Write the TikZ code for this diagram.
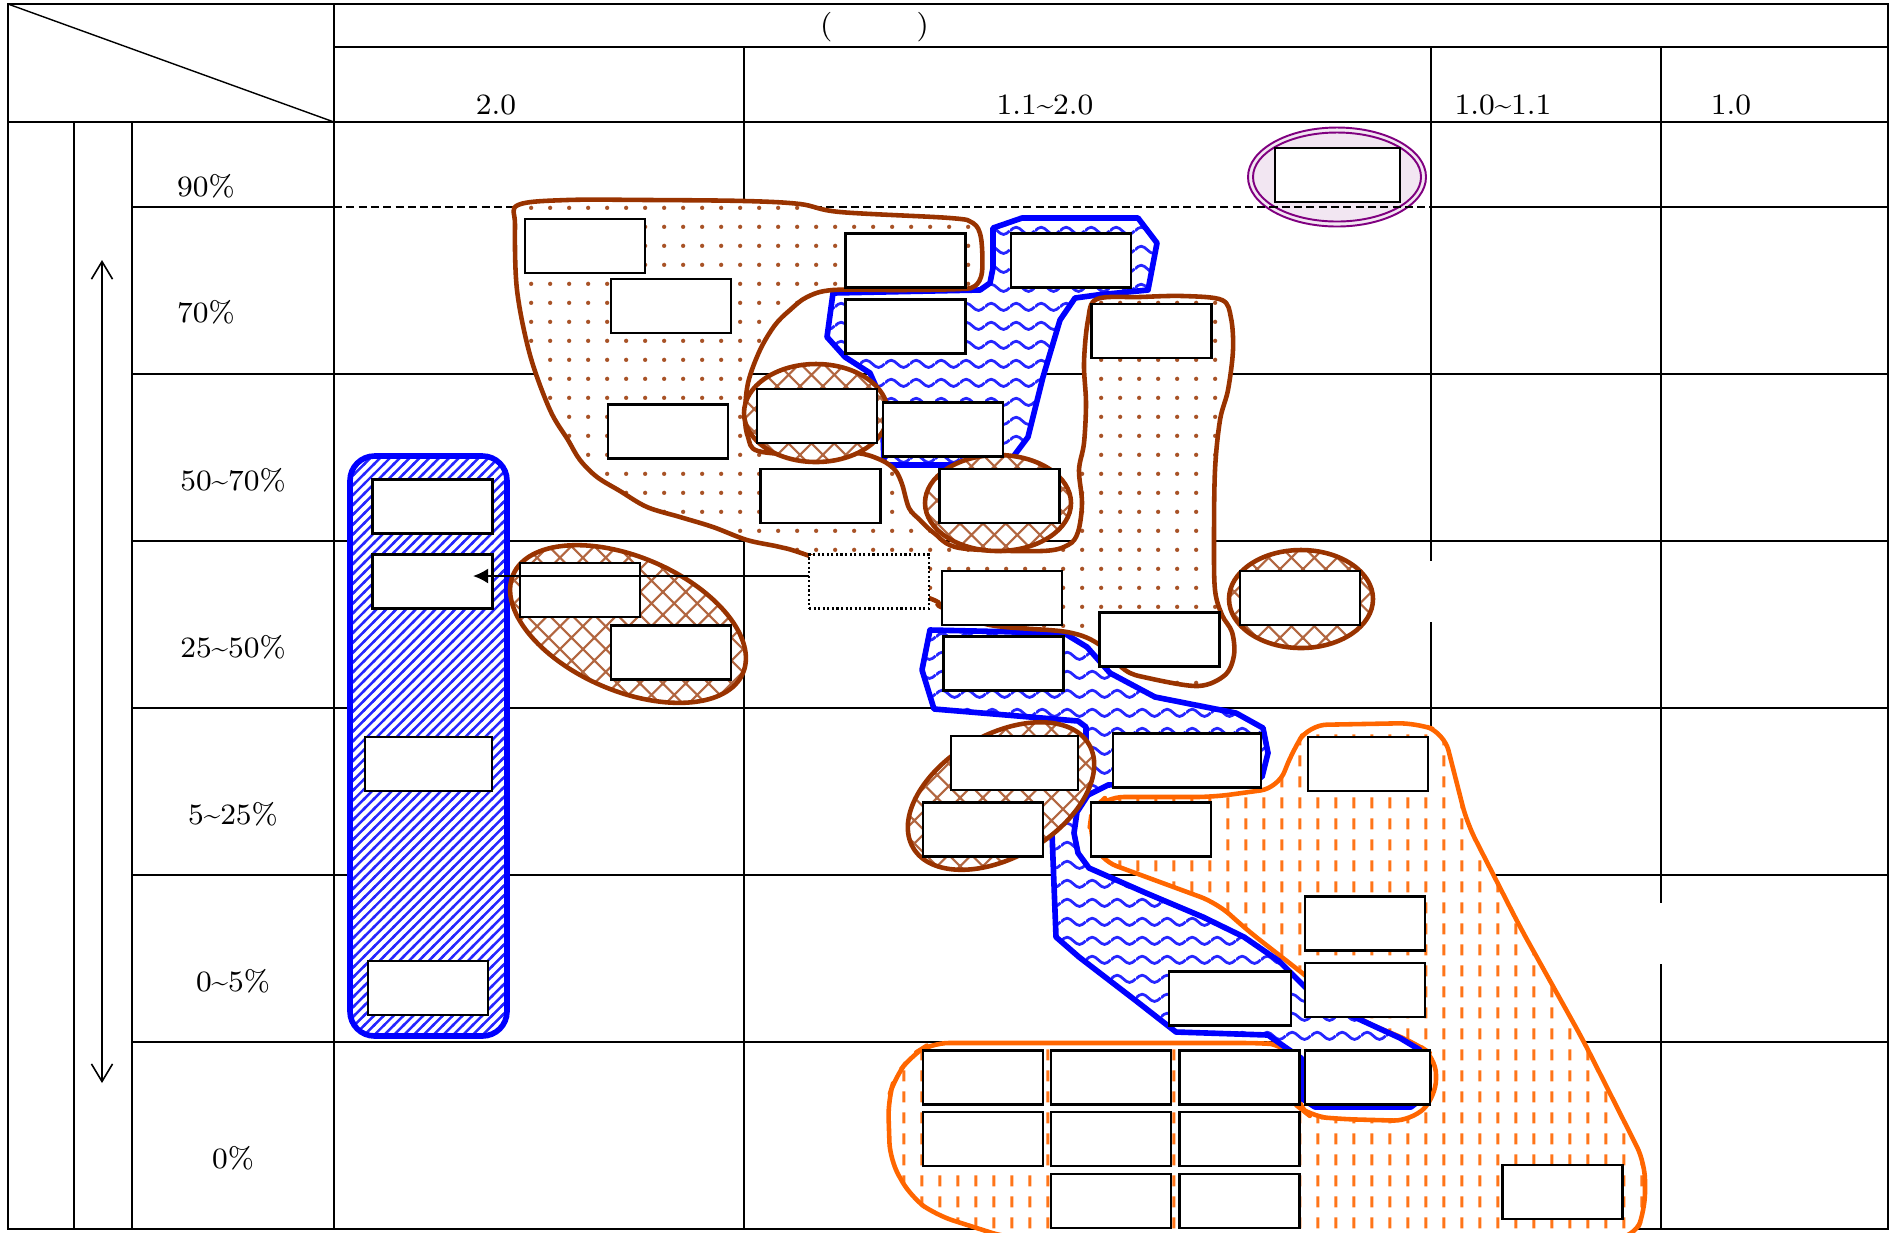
\documentclass[tikz,border=0pt]{standalone}
\usetikzlibrary{patterns,arrows.meta}
\definecolor{brn}{HTML}{993300}
\definecolor{org}{HTML}{FF6600}
\definecolor{pur}{HTML}{800080}
\definecolor{lpur}{HTML}{F2E6F2}
\pgfdeclarepatternformonly{bwave}{\pgfpointorigin}{\pgfqpoint{7.2pt}{5.3pt}}{\pgfqpoint{7.2pt}{5.3pt}}{%
  \pgfsetlinewidth{0.8pt}%
  \pgfpathmoveto{\pgfqpoint{0pt}{2.65pt}}%
  \pgfpathsine{\pgfqpoint{1.8pt}{1.05pt}}%
  \pgfpathcosine{\pgfqpoint{1.8pt}{-1.05pt}}%
  \pgfpathsine{\pgfqpoint{1.8pt}{-1.05pt}}%
  \pgfpathcosine{\pgfqpoint{1.8pt}{1.05pt}}%
  \pgfusepath{stroke}}
\pgfdeclarepatternformonly{bdiag}{\pgfqpoint{-0.5pt}{-0.5pt}}{\pgfqpoint{3.3pt}{3.3pt}}{\pgfqpoint{2.8pt}{2.8pt}}{%
  \pgfsetlinewidth{0.7pt}%
  \pgfpathmoveto{\pgfqpoint{-0.5pt}{-0.5pt}}%
  \pgfpathlineto{\pgfqpoint{3.3pt}{3.3pt}}%
  \pgfusepath{stroke}}
\pgfdeclarepatternformonly{bdots}{\pgfpointorigin}{\pgfqpoint{5.3pt}{5.3pt}}{\pgfqpoint{5.3pt}{5.3pt}}{%
  \pgfpathcircle{\pgfqpoint{2.65pt}{2.65pt}}{0.62pt}%
  \pgfusepath{fill}}
\pgfdeclarepatternformonly{bhatch}{\pgfqpoint{-0.5pt}{-0.5pt}}{\pgfqpoint{7pt}{7pt}}{\pgfqpoint{6.5pt}{6.5pt}}{%
  \pgfsetlinewidth{0.6pt}%
  \pgfpathmoveto{\pgfqpoint{-0.4pt}{-0.4pt}}\pgfpathlineto{\pgfqpoint{6.9pt}{6.9pt}}%
  \pgfpathmoveto{\pgfqpoint{-0.4pt}{6.9pt}}\pgfpathlineto{\pgfqpoint{6.9pt}{-0.4pt}}%
  \pgfusepath{stroke}}
\pgfdeclarepatternformonly{odash}{\pgfpointorigin}{\pgfqpoint{5.2pt}{6pt}}{\pgfqpoint{5.2pt}{6pt}}{%
  \pgfsetlinewidth{0.9pt}%
  \pgfpathmoveto{\pgfqpoint{2.6pt}{1.4pt}}%
  \pgfpathlineto{\pgfqpoint{2.6pt}{4.6pt}}%
  \pgfusepath{stroke}}
\tikzset{
  grid/.style={line width=0.6pt},
  bx/.style={draw, fill=white, line width=0.7pt, inner sep=0pt, outer sep=0pt, minimum width=1.2cm, minimum height=0.54cm},
  dbx/.style={bx, dash pattern=on 0.6pt off 0.7pt},
  lbl/.style={font=\fontsize{8.4}{10}\selectfont, inner sep=0pt},
  wavereg/.style={draw=blue, line width=1.6pt, line join=round, preaction={fill=white}, pattern=bwave, pattern color=blue!85},
  diagreg/.style={draw=blue, line width=1.6pt, rounded corners=7pt, preaction={fill=white}, pattern=bdiag, pattern color=blue!85},
  dotreg/.style={draw=brn, line width=1.3pt, preaction={fill=white}, pattern=bdots, pattern color=brn!85},
  hatchreg/.style={draw=brn, line width=1.3pt, preaction={fill=white}, pattern=bhatch, pattern color=brn!75},
  orgreg/.style={draw=org, line width=1.3pt, line join=round, rounded corners=5pt, preaction={fill=white}, pattern=odash, pattern color=org!90},
}
\begin{document}
\begin{tikzpicture}[x=0.01cm, y=-0.01cm]
\useasboundingbox (0,0) rectangle (1897,1232);
% purple ellipse (under the dashed line)
\fill[lpur] (1337,177) ellipse [x radius=89, y radius=49.5];
\draw[pur, line width=0.55pt] (1337,177) ellipse [x radius=89, y radius=49.5];
\draw[pur, line width=0.55pt] (1337,177) ellipse [x radius=84, y radius=44.5];
% grid
\draw[grid] (8,4) rectangle (1888,1229);
\draw[grid] (334,47) -- (1888,47);
\draw[grid] (8,122) -- (1888,122);
\draw[line width=0.4pt] (8,4) -- (334,122);
\draw[grid] (334,4) -- (334,1229);
\draw[grid] (744,47) -- (744,1229);
\draw[grid] (1431,47) -- (1431,561) (1431,622) -- (1431,1229);
\draw[grid] (1661,47) -- (1661,903) (1661,964) -- (1661,1229);
\draw[grid] (74,122) -- (74,1229);
\draw[grid] (132,122) -- (132,1229);
\draw[grid] (132,207) -- (334,207) (1431,207) -- (1888,207);
\draw[line width=0.45pt, dash pattern=on 2.3pt off 1.2pt] (334,207) -- (1431,207);
\foreach \yy in {374,541,708,875,1042} \draw[grid] (132,\yy) -- (1888,\yy);
% labels
\node[lbl] (hdr) at (874.5,27) {(\hspace{24pt})};
\node[lbl] (c1) at (496,105) {2.0};
\node[lbl] (c2) at (1045,105) {1.1\textasciitilde2.0};
\node[lbl] (c3) at (1503,105) {1.0\textasciitilde1.1};
\node[lbl] (c4) at (1731,105) {1.0};
\node[lbl] (r1) at (206,186) {90\%};
\node[lbl] (r2) at (206,312) {70\%};
\node[lbl] (r3) at (233,480) {50\textasciitilde70\%};
\node[lbl] (r4) at (233,647) {25\textasciitilde50\%};
\node[lbl] (r5) at (233,814) {5\textasciitilde25\%};
\node[lbl] (r6) at (233,981) {0\textasciitilde5\%};
\node[lbl] (r7) at (233,1158) {0\%};
% vertical double arrow
\coordinate (aTop) at (102,260);
\coordinate (aBot) at (102,1083);
\draw[line width=0.45pt, {Straight Barb[length=5pt,width=6pt]}-{Straight Barb[length=5pt,width=6pt]}] (aTop) -- (aBot);
% regions
\draw[diagreg] (350,456) rectangle (507,1036);
\draw[orgreg] (1309,725) -- (1416,723) -- (1444,733) -- (1467,823) -- (1520,927) -- (1583,1040) -- (1630,1133) -- (1645,1163) -- (1645,1210) -- (1634,1238) -- (1008,1238) -- (936,1215) -- (911,1197) -- (890,1160) -- (888,1100) -- (895,1077) -- (912,1055) -- (931,1043) -- (1263,1043) -- (1285,1045) -- (1296,1060) -- (1296,1105) -- (1310,1116) -- (1339,1119) -- (1411,1121) -- (1436,1097) -- (1436,1057) -- (1415,1043) -- (1360,1020) -- (1301,972) -- (1247,930) -- (1217,903) -- (1100,860) -- (1089,833) -- (1092,810) -- (1106,797) -- (1213,797) -- (1278,788) -- (1293,750) -- cycle;
\draw[wavereg] (833,293) -- (980,290) -- (990,283) -- (993,268) -- (993,228) -- (1022,218) -- (1138,218) -- (1157,243) -- (1148,290) -- (1097,295) -- (1075,298) -- (1060,320) -- (1043,377) -- (1028,437) -- (1013,457) -- (990,465) -- (884,465) -- (882,400) -- (870,373) -- (845,357) -- (827,337) -- cycle;
\draw[wavereg] (930,630) -- (1064,633) -- (1087,647) -- (1110,673) -- (1155,697) -- (1236,713) -- (1263,728) -- (1268,753) -- (1262,777) -- (1108,785) -- (1088,795) -- (1077,812) -- (1074,833) -- (1078,853) -- (1089,868) -- (1146,893) -- (1203,917) -- (1244,937) -- (1279,961) -- (1306,988) -- (1350,1015) -- (1400,1038) -- (1420,1050) -- (1420,1100) -- (1411,1107) -- (1315,1107) -- (1301,1098) -- (1301,1058) -- (1285,1047) -- (1268,1035) -- (1176,1032) -- (1135,1000) -- (1079,957) -- (1056,937) -- (1052,833) -- (1062,800) -- (1086,770) -- (1086,727) -- (1078,721) -- (934,709) -- (922,670) -- cycle;
\draw[dotreg] plot[smooth cycle, tension=0.55] coordinates {(518,205) (567,200) (650,200) (745,201) (800,204) (840,212) (950,218) (973,223) (981,238) (982,272) (975,286) (960,289) (900,290) (833,290) (807,297) (790,310) (775,325) (760,350) (748,383) (745,417) (748,437) (758,451) (809,455) (856,453) (881,460) (895,470) (902,484) (909,508) (920,520) (934,533) (960,548) (1041,551) (1068,545) (1078,532) (1082,503) (1079,470) (1084,443) (1086,403) (1084,363) (1088,320) (1097,299) (1140,297) (1183,296) (1222,300) (1231,318) (1233,350) (1228,390) (1220,420) (1215,470) (1214,540) (1215,590) (1222,615) (1232,632) (1234,655) (1225,675) (1198,686) (1148,678) (1125,670) (1100,645) (1067,632) (990,625) (941,607) (929,598) (807,555) (780,547) (747,540) (713,527) (680,517) (647,507) (620,491) (597,477) (580,460) (568,440) (550,410) (530,355) (517,290) (515,225)};
\draw[hatchreg] (816,413) ellipse [x radius=72, y radius=49];
\draw[hatchreg] (998,503) ellipse [x radius=73, y radius=48];
\draw[hatchreg] (1301,599) ellipse [x radius=72, y radius=49];
\draw[hatchreg, rotate around={-23.2:(628,624)}] (628,624) ellipse [x radius=125, y radius=67];
\draw[hatchreg, rotate around={30.5:(1001,796)}] (1001,796) ellipse [x radius=102, y radius=61];
% boxes
\node[bx,minimum width=1.25cm] (b1) at (1337.5,175) {};
\node[bx] (b2) at (585,246) {};
\node[bx] (b3) at (671,306) {};
\node[bx] (b4) at (668,431.5) {};
\node[bx] (b5) at (905.5,260.5) {};
\node[bx] (b6) at (1071,260.5) {};
\node[bx] (b7) at (905.5,326.5) {};
\node[bx] (b8) at (1151.5,331) {};
\node[bx] (b9) at (817,416) {};
\node[bx] (b10) at (943,429.5) {};
\node[bx] (b11) at (820.5,496) {};
\node[bx] (b12) at (999.5,496) {};
\node[bx] (b13) at (432.5,506.5) {};
\node[bx] (b14) at (432.5,581.5) {};
\node[bx] (b15) at (580,590) {};
\node[bx] (b16) at (671,652.5) {};
\node[dbx] (b17) at (869,581.5) {};
\node[bx] (b18) at (1002,598) {};
\node[bx] (b19) at (1300,598) {};
\node[bx] (b20) at (1159.5,639.5) {};
\node[bx] (b21) at (1003.5,663.5) {};
\node[bx,minimum width=1.27cm] (b22) at (428.5,764) {};
\node[bx,minimum width=1.27cm] (b23) at (1014.5,763) {};
\node[bx,minimum width=1.48cm] (b24) at (1187,760.5) {};
\node[bx] (b25) at (1368,764) {};
\node[bx] (b26) at (983,829.5) {};
\node[bx] (b27) at (1151,829.5) {};
\node[bx] (b28) at (1365,923.5) {};
\node[bx,minimum width=1.22cm] (b29) at (1230,998.5) {};
\node[bx] (b30) at (1365,990) {};
\node[bx] (b31) at (428,988) {};
\node[bx] (b32) at (983,1077.5) {};
\node[bx] (b33) at (1111,1077.5) {};
\node[bx] (b34) at (1239.5,1077.5) {};
\node[bx,minimum width=1.25cm] (b35) at (1367.5,1077.5) {};
\node[bx] (b36) at (983,1139) {};
\node[bx] (b37) at (1111,1139) {};
\node[bx] (b38) at (1239.5,1139) {};
\node[bx] (b39) at (1111,1201) {};
\node[bx] (b40) at (1239.5,1201) {};
\node[bx] (b41) at (1562.5,1192) {};
% arrow
\coordinate (tip) at (473,576);
\draw[line width=0.6pt, -{Latex[length=4.3pt,width=4.3pt]}] (b17.west |- tip) -- (tip);
\end{tikzpicture}
\end{document}
